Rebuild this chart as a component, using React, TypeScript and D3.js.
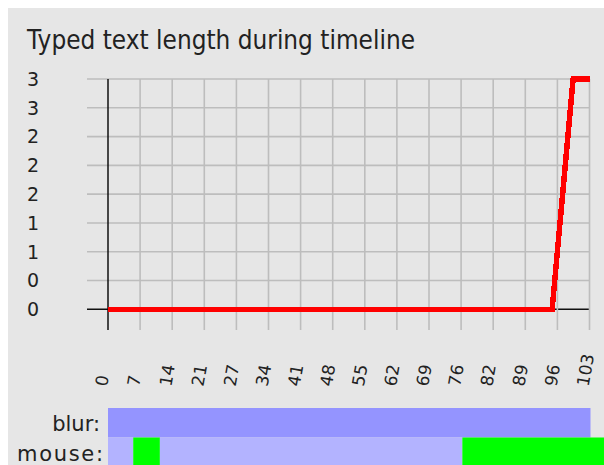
import React from 'react';
import * as d3 from 'd3';

// typed text length over the timeline
const timeX = [0, 95, 99.5, 103];
const textLength = [0, 0, 3, 3];

const yTickLabels = ['0', '0', '1', '1', '2', '2', '2', '3', '3'];
const xTickLabels = ['0', '7', '14', '21', '27', '34', '41', '48', '55', '62', '69', '76', '82', '89', '96', '103'];

// blur row
const blurStart = [0];
const blurEnd = [103];

// mouse row
const mouseStart = [0, 5.4, 11.1, 75.8];
const mouseEnd = [5.4, 11.1, 75.8, 112];
const mouseActive = [false, true, false, true];

const font = '"DejaVu Sans", sans-serif';

const App = () => {
    const x = d3.scaleLinear().domain([0, 103]).range([108, 589.5]);
    const y = d3.scaleLinear().domain([0, 3]).range([309.3, 79]);

    const xTicks = xTickLabels.map((_, i) => (i * 103) / (xTickLabels.length - 1));
    const yTicks = yTickLabels.map((_, i) => (i * 3) / (yTickLabels.length - 1));

    const line = d3
        .line<number>()
        .x((_, i) => x(timeX[i]))
        .y(d => y(d));

    const gridColor = '#bdbdbd';

    return (
        <div style={{ position: 'fixed', left: 0, top: 0, width: 604, height: 465, overflow: 'hidden' }}>
            <svg width={604} height={465} style={{ display: 'block' }}>
                <rect x={8} y={8} width={596} height={457} fill="#e6e6e6" />
                <text
                    x={27}
                    y={49}
                    fontFamily={font}
                    fontSize={27}
                    fill="#222"
                    textLength={388}
                    lengthAdjust="spacingAndGlyphs"
                >
                    Typed text length during timeline
                </text>

                {/* horizontal grid */}
                {yTicks.map((t, i) => (
                    <line
                        key={'h' + i}
                        x1={87}
                        x2={x(103)}
                        y1={y(t)}
                        y2={y(t)}
                        stroke={i === 0 ? '#111' : gridColor}
                        strokeWidth={i === 0 ? 1.5 : 1.6}
                    />
                ))}
                {/* vertical grid */}
                {xTicks.map((t, i) => (
                    <line
                        key={'v' + i}
                        x1={x(t)}
                        x2={x(t)}
                        y1={y(3)}
                        y2={330}
                        stroke={i === 0 ? '#111' : gridColor}
                        strokeWidth={i === 0 ? 1.5 : 1.6}
                    />
                ))}

                {yTicks.map((t, i) => (
                    <text
                        key={'yl' + i}
                        x={39}
                        y={y(t)}
                        dy="0.36em"
                        textAnchor="end"
                        fontFamily={font}
                        fontSize={19}
                        fill="#222"
                    >
                        {yTickLabels[i]}
                    </text>
                ))}
                {xTicks.map((t, i) => (
                    <text
                        key={'xl' + i}
                        transform={`translate(${x(t) - 1},387) rotate(-80)`}
                        fontFamily={font}
                        fontSize={17}
                        fill="#222"
                    >
                        {xTickLabels[i]}
                    </text>
                ))}

                <path
                    d={line(textLength) || ''}
                    fill="none"
                    stroke="#ff0000"
                    strokeWidth={5.5}
                    strokeLinejoin="miter"
                    shapeRendering="crispEdges"
                />

                {/* timeline rows */}
                <text x={100} y={431} textAnchor="end" fontFamily={font} fontSize={21} fill="#222">
                    blur:
                </text>
                <text
                    x={103}
                    y={461}
                    textAnchor="end"
                    fontFamily={font}
                    fontSize={21}
                    fill="#222"
                    textLength={86}
                    lengthAdjust="spacing"
                >
                    mouse:
                </text>
                {blurStart.map((s, i) => (
                    <rect key={'b' + i} x={x(s)} y={408} width={x(blurEnd[i]) - x(s) + 1} height={29.5} fill="#9494ff" />
                ))}
                {mouseStart.map((s, i) => (
                    <rect
                        key={'m' + i}
                        x={x(s)}
                        y={437.5}
                        width={x(mouseEnd[i]) - x(s)}
                        height={30}
                        fill={mouseActive[i] ? '#00ff00' : '#b3b3ff'}
                    />
                ))}
            </svg>
        </div>
    );
};

export default App;
